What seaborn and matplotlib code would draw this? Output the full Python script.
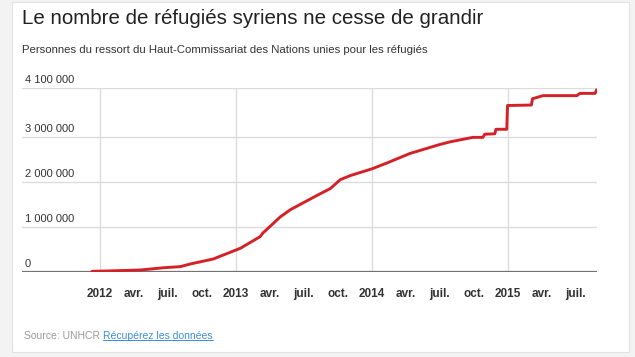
import pandas as pd
import matplotlib
matplotlib.use('Agg')
import matplotlib.pyplot as plt
from matplotlib.patches import Rectangle
from matplotlib.lines import Line2D
import seaborn as sns

## Data (people of concern to UNHCR)
dates = ['2011-12-12', '2012-01-30', '2012-04-20', '2012-06-21', '2012-08-05',
         '2012-09-01', '2012-11-01', '2013-01-13', '2013-03-07', '2013-03-13',
         '2013-04-30', '2013-05-27', '2013-08-07', '2013-09-11', '2013-10-08',
         '2013-11-04', '2014-01-01', '2014-02-10', '2014-04-12', '2014-07-01',
         '2014-07-29', '2014-09-28', '2014-10-25', '2014-10-30', '2014-11-26',
         '2014-11-29', '2014-12-28', '2014-12-30', '2015-03-04', '2015-03-07',
         '2015-04-04', '2015-07-04', '2015-07-12', '2015-08-22', '2015-08-26']
refugees = [15000, 25000, 45000, 95000, 120000,
            180000, 290000, 530000, 790000, 860000,
            1230000, 1390000, 1710000, 1860000, 2060000,
            2150000, 2300000, 2430000, 2640000, 2840000,
            2900000, 3000000, 3000000, 3070000, 3080000,
            3180000, 3180000, 3710000, 3720000, 3860000,
            3930000, 3930000, 3980000, 3980000, 4060000]

ytick_values = [0, 1000000, 2000000, 3000000, 4100000]
ytick_labels = ['0', '1 000 000', '2 000 000', '3 000 000', '4 100 000']
xtick_dates = ['2012-01-01', '2012-04-01', '2012-07-01', '2012-10-01',
               '2013-01-01', '2013-04-01', '2013-07-01', '2013-10-01',
               '2014-01-01', '2014-04-01', '2014-07-01', '2014-10-01',
               '2015-01-01', '2015-04-01', '2015-07-01']
xtick_labels = ['2012', 'avr.', 'juil.', 'oct.', '2013', 'avr.', 'juil.', 'oct.',
                '2014', 'avr.', 'juil.', 'oct.', '2015', 'avr.', 'juil.']

df = pd.DataFrame({'date': pd.to_datetime(dates), 'refugees': refugees})

sns.set_style('white')
plt.rcParams['font.family'] = ['Liberation Sans', 'DejaVu Sans']

fig = plt.figure(figsize=(6.35, 3.57), dpi=100)
fig.patch.set_facecolor('#f3f3f3')
# white card behind everything
card = Rectangle((12/635, 1-352/357), 617/635, 350/357, transform=fig.transFigure,
                 facecolor='white', edgecolor='#e2e2e2', lw=0.8, zorder=-10)
fig.patches.append(card)

ax = fig.add_axes([22/635, 1-272/357, 575/635, 184/357])
ax.set_facecolor('none')

# gridlines
for v in ytick_values[1:]:
    ax.axhline(v, color='#dcdcdc', lw=1, zorder=1)
for d in ['2012-01-01', '2013-01-01', '2014-01-01', '2015-01-01']:
    ax.axvline(pd.Timestamp(d), color='#dcdcdc', lw=1, zorder=1)
ax.axhline(0, color='#737373', lw=1.6, zorder=2)

sns.lineplot(data=df, x='date', y='refugees', color='#d42127', lw=2.1, ax=ax, zorder=3)

ax.set_xlim(pd.Timestamp('2011-06-07'), pd.Timestamp('2015-08-27'))
ax.set_ylim(0, 4100000)
ax.set_xlabel('')
ax.set_ylabel('')
for s in ax.spines.values():
    s.set_visible(False)

ax.set_xticks(pd.to_datetime(xtick_dates))
ax.set_xticklabels(xtick_labels, fontsize=8.5, fontweight='bold', color='#333333')
ax.tick_params(axis='x', length=0, pad=11.5)
ax.set_yticks([])

for v, lab in zip(ytick_values, ytick_labels):
    ax.annotate(lab, xy=(0, v), xycoords=('axes fraction', 'data'), xytext=(2, 2.5),
                textcoords='offset points', ha='left', va='bottom', fontsize=8, color='#333333')

fig.text(22/635, 1-19/357, 'Le nombre de réfugiés syriens ne cesse de grandir',
         fontsize=14.8, color='#222222', va='center', ha='left')
fig.text(22/635, 1-50/357, 'Personnes du ressort du Haut-Commissariat des Nations unies pour les réfugiés',
         fontsize=8.2, color='#333333', va='center', ha='left')

src = fig.text(24/635, 1-336/357, 'Source: UNHCR ', fontsize=7.5, color='#9a9a9a', va='center', ha='left')
fig.canvas.draw()
bb = src.get_window_extent().transformed(fig.transFigure.inverted())
link = fig.text(bb.x1, 1-336/357, 'Récupérez les données', fontsize=7.5, color='#3d8ed1',
                va='center', ha='left')
fig.canvas.draw()
lb = link.get_window_extent().transformed(fig.transFigure.inverted())
fig.lines.append(Line2D([lb.x0, lb.x1], [lb.y0 + 0.002, lb.y0 + 0.002], transform=fig.transFigure,
                        color='#3d8ed1', lw=0.7))

fig.savefig('out.png', dpi=100, facecolor=fig.get_facecolor())
